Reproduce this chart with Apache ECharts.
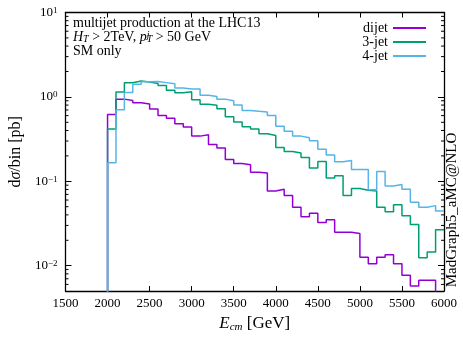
<!DOCTYPE html>
<html><head><meta charset="utf-8">
<script src="https://cdn.jsdelivr.net/npm/echarts@6/dist/echarts.min.js"></script>
<style>html,body{margin:0;padding:0;background:#fff}#c{width:463px;height:338px}</style>
</head><body><div id="c"></div>
<script>
// bin lower edges (GeV), 100 GeV wide
const binLow = [1900,2000,2100,2200,2300,2400,2500,2600,2700,2800,2900,3000,3100,3200,3300,3400,3500,3600,3700,3800,3900,
                4000,4100,4200,4300,4400,4500,4600,4700,4800,4900,5000,5100,5200,5300,5400,5500,5600,5700,5800,5900];
const binWidth = 100;
const EMPTY = 1e-6; // empty bin (drawn below the visible range)

const dijet = [EMPTY,0.618,0.941,0.907,0.854,0.825,0.72,0.601,0.557,0.482,0.439,0.343,0.356,0.273,0.248,0.181,0.163,0.157,0.128,0.125,0.0769,
               0.0806,0.0678,0.0494,0.038,0.0418,0.0324,0.0351,0.0249,0.0249,0.024,0.01257,0.01054,0.01257,0.01346,0.01054,0.00769,0.00575,0.00674,0.00674,EMPTY];
const threeJet = [EMPTY,0.416,1.14,1.47,1.54,1.50,1.445,1.364,1.20,1.12,1.15,0.924,0.817,0.796,0.723,0.580,0.505,0.442,0.416,0.365,0.349,
                  0.252,0.225,0.216,0.192,0.144,0.172,0.1097,0.1165,0.0678,0.082,0.0785,0.0769,0.0494,0.0436,0.0529,0.039,0.0308,0.01244,0.01456,0.0267];
const fourJet = [EMPTY,0.166,0.705,1.126,1.408,1.51,1.523,1.476,1.427,1.277,1.244,1.244,1.046,1.008,0.941,0.90,0.804,0.692,0.674,0.662,0.602,
                 0.450,0.391,0.343,0.329,0.303,0.239,0.205,0.170,0.176,0.138,0.138,0.0793,0.131,0.0877,0.0919,0.0804,0.0564,0.0494,0.0515,0.0445];

const seriesNames = ['dijet','3-jet','4-jet'];
const seriesColors = ['#9400d3','#009e73','#56b4e9'];
const xTicks = {min:1500, max:6000, step:500};
const yRange = {min:0.005, max:10};

const FONT = '"Liberation Serif","DejaVu Serif",serif';

function histPoints(vals){
  const pts = vals.map((v,i)=>[binLow[i], v]);
  pts.push([binLow[binLow.length-1]+binWidth, vals[vals.length-1]]);
  return pts;
}
// minor tick values for the log axis
const minorVals = [];
for (let e=-3;e<=0;e++) for (let m=2;m<=9;m++){ const v=m*Math.pow(10,e); if(v>yRange.min && v<yRange.max) minorVals.push(v); }

function powLabel(v){
  const e = Math.round(Math.log10(v));
  if (Math.abs(v/Math.pow(10,e)-1) > 1e-6) return '';
  return '10{sup|' + (e<0 ? '\u2212'+(-e) : e) + '}';
}

const chart = echarts.init(document.getElementById('c'), null, {renderer:'canvas'});
const axisLine = {show:true, lineStyle:{color:'#000', width:1.3}};
const data = [dijet, threeJet, fourJet];

chart.setOption({
  animation:false,
  backgroundColor:'#fff',
  grid:{left:65.5, right:19, top:12.5, bottom:38, show:false},
  legend:{
    data:seriesNames, orient:'vertical', align:'right', right:32, top:16,
    icon:'rect', itemWidth:33, itemHeight:2, itemGap:0,
    textStyle:{fontFamily:FONT, fontSize:14, color:'#000', lineHeight:11.5}
  },
  xAxis:[{
    type:'value', min:xTicks.min, max:xTicks.max, interval:xTicks.step,
    axisLine, splitLine:{show:false},
    axisTick:{inside:true, length:5, lineStyle:{color:'#000'}},
    axisLabel:{fontFamily:FONT, fontSize:13, color:'#000', margin:6, formatter:function(v){return String(v);}},
    name:'{it|E}{sub|cm} [GeV]', nameLocation:'middle', nameGap:17,
    nameTextStyle:{fontFamily:FONT, fontSize:17, color:'#000', lineHeight:18,
      rich:{it:{fontStyle:'italic', fontFamily:FONT, fontSize:17, lineHeight:18},
            sub:{fontStyle:'italic', fontFamily:FONT, fontSize:11, verticalAlign:'bottom', lineHeight:8}}}
  },{
    type:'value', position:'top', min:xTicks.min, max:xTicks.max, interval:xTicks.step,
    axisLine, splitLine:{show:false}, axisLabel:{show:false},
    axisTick:{inside:true, length:5, lineStyle:{color:'#000'}}
  }],
  yAxis:[{
    type:'log', logBase:10, min:yRange.min, max:yRange.max,
    axisLine, splitLine:{show:false},
    axisTick:{inside:true, length:6, lineStyle:{color:'#000'}},
    axisLabel:{fontFamily:FONT, fontSize:13, color:'#000', margin:8, formatter:powLabel,
      rich:{sup:{fontFamily:FONT, fontSize:9, verticalAlign:'top', lineHeight:4}}},
    name:'d{it|\u03c3}/bin [pb]', nameLocation:'middle', nameGap:37, nameRotate:90,
    nameTextStyle:{fontFamily:FONT, fontSize:16, color:'#000',
      rich:{it:{fontStyle:'italic', fontFamily:FONT, fontSize:16}}}
  },{
    type:'log', logBase:10, min:yRange.min, max:yRange.max, position:'right',
    axisLine, splitLine:{show:false}, axisLabel:{show:false},
    axisTick:{inside:true, length:6, lineStyle:{color:'#000'}}
  }],
  graphic:[{
    type:'text', left:73, top:16.5,
    style:{
      text:'multijet production at the LHC13\n{it|H}{sub|T} > 2TeV, {it|p}{sup|j}{sub|T} > 50 GeV\nSM only',
      font:'14px ' + FONT, fill:'#000', lineHeight:14,
      rich:{
        it:{fontStyle:'italic', fontFamily:FONT, fontSize:14, lineHeight:14},
        sub:{fontStyle:'italic', fontFamily:FONT, fontSize:10, verticalAlign:'bottom', lineHeight:6},
        sup:{fontStyle:'italic', fontFamily:FONT, fontSize:10, verticalAlign:'top', lineHeight:6, width:0}
      }
    }
  },{
    type:'text', x:452, y:210, rotation:Math.PI/2,
    style:{text:'MadGraph5_aMC@NLO', font:'15px ' + FONT, fill:'#000', align:'center', verticalAlign:'middle'}
  }],
  series:[
    ...seriesNames.map((n,i)=>({
      name:n, type:'line', step:'end', data:histPoints(data[i]),
      showSymbol:false, symbol:'none', clip:true, color:seriesColors[i],
      lineStyle:{color:seriesColors[i], width:1.5}, z:3+i
    })),
    {
      type:'custom', xAxisIndex:0, yAxisIndex:0, silent:true, z:10,
      data:minorVals.map(v=>[xTicks.min, v]),
      renderItem:function(params, api){
        const v = api.value(1);
        const l = api.coord([xTicks.min, v]);
        const r = api.coord([xTicks.max, v]);
        return {type:'group', children:[
          {type:'line', shape:{x1:l[0], y1:l[1], x2:l[0]+3, y2:l[1]}, style:{stroke:'#000', lineWidth:1}},
          {type:'line', shape:{x1:r[0], y1:r[1], x2:r[0]-3, y2:r[1]}, style:{stroke:'#000', lineWidth:1}}
        ]};
      }
    }
  ]
});
</script></body></html>
